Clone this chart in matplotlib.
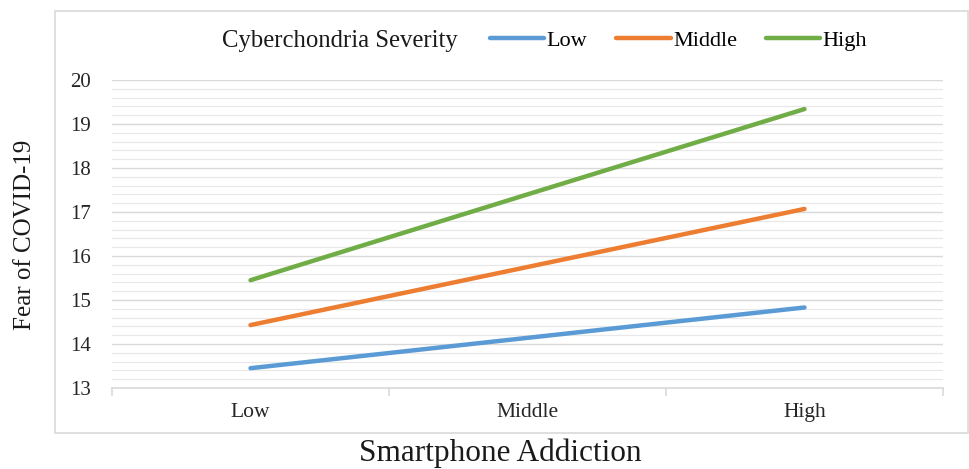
import matplotlib
matplotlib.use("Agg")
import matplotlib.pyplot as plt
from matplotlib.patches import Rectangle
from matplotlib.ticker import MultipleLocator, FixedLocator

categories = ["Low", "Middle", "High"]
series_names = ["Low", "Middle", "High"]
low_vals = [13.45, 14.14, 14.83]
middle_vals = [14.43, 15.75, 17.07]
high_vals = [15.45, 17.40, 19.34]
yticks = [13, 14, 15, 16, 17, 18, 19, 20]
colors = ["#5B9BD5", "#ED7D31", "#70AD47"]

plt.rcParams['font.family'] = ['Liberation Serif', 'DejaVu Serif']

W, H = 970, 469
fig = plt.figure(figsize=(W / 100, H / 100), dpi=100)

def fx(px):
    return px / W

def fy(py):
    return 1 - py / H

# chart border
fig.patches.append(Rectangle((fx(55), fy(433)), fx(968) - fx(55), fy(11) - fy(433),
                             transform=fig.transFigure, fill=False,
                             edgecolor="#D9D9D9", lw=1.2))

ax = fig.add_axes([fx(112), fy(388), fx(943) - fx(112), fy(80) - fy(388)])
x = list(range(len(categories)))
for name, vals, c in zip(series_names, [low_vals, middle_vals, high_vals], colors):
    ax.plot(x, vals, color=c, lw=3.2, solid_capstyle="round", label=name)

ax.set_xlim(-0.5, len(categories) - 0.5)
ax.set_ylim(13, 20)
ax.set_yticks(yticks)
ax.yaxis.set_minor_locator(MultipleLocator(0.2))
ax.grid(axis="y", which="major", color="#D9D9D9", lw=1.0)
ax.grid(axis="y", which="minor", color="#E8E8E8", lw=0.9)
ax.set_axisbelow(True)
for s in ["top", "right", "left"]:
    ax.spines[s].set_visible(False)
ax.spines["bottom"].set_color("#D9D9D9")
ax.spines["bottom"].set_linewidth(1.2)

ax.xaxis.set_major_locator(FixedLocator([-0.5, 0.5, 1.5, 2.5]))
ax.xaxis.set_major_formatter(plt.NullFormatter())
ax.xaxis.set_minor_locator(FixedLocator(x))
ax.set_xticklabels(categories, minor=True)
ax.tick_params(axis="x", which="major", length=6, color="#D9D9D9", width=1.2, direction="out")
ax.tick_params(axis="x", which="minor", length=0, labelsize=15.5, pad=11, labelcolor="#262626")
ax.tick_params(axis="y", which="both", length=0, labelsize=15, pad=15, labelcolor="#262626")

fig.text(fx(25), fy(235), "Fear of COVID-19", rotation=90, ha="center", va="center",
         fontsize=18, color="#1a1a1a")
fig.text(fx(500), fy(453), "Smartphone Addiction", ha="center", va="center",
         fontsize=22.5, color="#1a1a1a")

fig.text(fx(222), fy(41), "Cyberchondria Severity", ha="left", va="center",
         fontsize=17.8, color="#1a1a1a")
fig.legend(loc="center left", bbox_to_anchor=(fx(490), fy(41)), ncol=3, frameon=False,
           fontsize=16, handlelength=2.45, handletextpad=0.1, columnspacing=1.3,
           borderpad=0, borderaxespad=0)

fig.savefig("out.png", dpi=100, facecolor="white")
